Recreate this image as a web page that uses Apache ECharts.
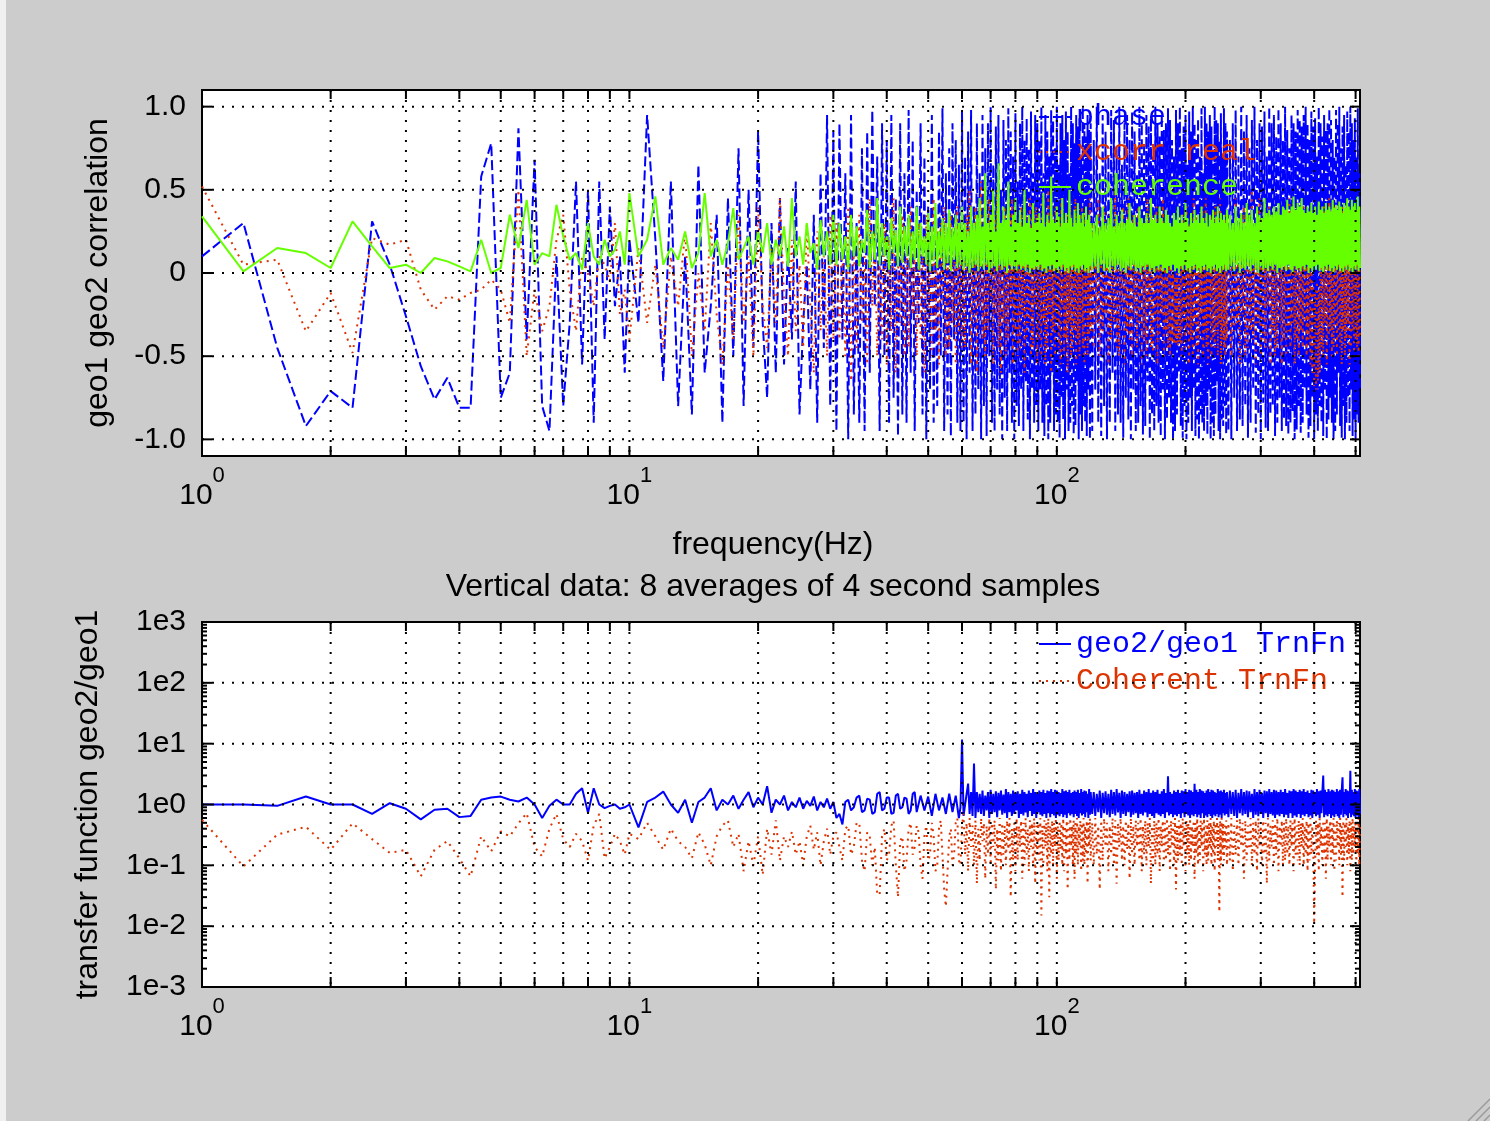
<!DOCTYPE html>
<html>
<head>
<meta charset="utf-8">
<script src="https://cdn.jsdelivr.net/npm/echarts@6/dist/echarts.min.js"></script>
<style>
html,body{margin:0;padding:0;background:#cccccc;}
#chart{width:1490px;height:1121px;}
</style>
</head>
<body>
<div id="chart"></div>
<script>
// ---------- DATA ----------
// frequency grid (Hz)
const freq = [
1,1.25,1.5,1.75,2,2.25,2.5,2.75,3,3.25,
3.5,3.75,4,4.25,4.5,4.75,5,5.25,5.5,5.75,
6,6.25,6.5,6.75,7,7.25,7.5,7.75,8,8.25,
8.5,8.75,9,9.25,9.5,9.75,10,
10.5,11,11.5,12,12.5,13,13.5,14,14.5,15,
15.5,16,16.5,17,17.5,18,18.5,19,19.5,20,
20.5,21,21.5,22,22.5,23,23.5,24,24.5,25,
25.5,26,26.5,27,27.5,28,28.5,29,29.5,30,
30.5,31,31.5,32,32.5,33,33.5,34,34.5,35,
35.5,36,36.5,37,37.5,38,38.5,39,39.5,40,
40.5,41,41.5,42,42.5,43,43.5,44,44.5,45,
45.5,46,46.5,47,47.5,48,48.5,49,49.5,50,
50.5,51,51.5,52,52.5,53,53.5,54,54.5,55,
55.5,56,56.5,57,57.5,58,58.5,59,59.5,60,
60.5,61,61.5,62,62.5,63,63.5,64,64.5,65,
65.5,66,66.5,67,67.5,68,68.5,69,69.5,70,
70.5,71,71.5,72,72.5,73,73.5,74,74.5,75,
75.5,76,76.5,77,77.5,78,78.5,79,79.5,80,
80.5,81,81.5,82,82.5,83,83.5,84,84.5,85,
85.5,86,86.5,87,87.5,88,88.5,89,89.5,90,
90.5,91,91.5,92,92.5,93,93.5,94,94.5,95,
95.5,96,96.5,97,97.5,98,98.5,99,99.5,100,
100.5,101,101.5,102,102.5,103,103.5,104,104.5,105,
105.5,106,106.5,107,107.5,108,108.5,109,109.5,110,
110.5,111,111.5,112,112.5,113,113.5,114,114.5,115,
115.5,116,116.5,117,117.5,118,118.5,119,119.5,120,
121,122,123,124,125,126,127,128,129,130,
131,132,133,134,135,136,137,138,139,140,
141,142,143,144,145,146,147,148,149,150,
151,152,153,154,155,156,157,158,159,160,
161,162,163,164,165,166,167,168,169,170,
171,172,173,174,175,176,177,178,179,180,
181,182,183,184,185,186,187,188,189,190,
191,192,193,194,195,196,197,198,199,200,
201,202,203,204,205,206,207,208,209,210,
211,212,213,214,215,216,217,218,219,220,
221,222,223,224,225,226,227,228,229,230,
231,232,233,234,235,236,237,238,239,240,
241,242,243,244,245,246,247,248,249,250,
252,254,256,258,260,262,264,266,268,270,
272,274,276,278,280,282,284,286,288,290,
292,294,296,298,300,302,304,306,308,310,
312,314,316,318,320,322,324,326,328,330,
332,334,336,338,340,342,344,346,348,350,
352,354,356,358,360,362,364,366,368,370,
372,374,376,378,380,382,384,386,388,390,
392,394,396,398,400,402,404,406,408,410,
412,414,416,418,420,422,424,426,428,430,
432,434,436,438,440,442,444,446,448,450,
452,454,456,458,460,462,464,466,468,470,
472,474,476,478,480,482,484,486,488,490,
492,494,496,498,500,502,504,506,508,510,
512
];

// top panel: phase
const phase = [
.10,.30,-.45,-.92,-.71,-.81,.31,.05,-.26,-.56,
-.76,-.63,-.81,-.81,.58,.78,-.75,-.6,.87,-.4,
.68,-.8,-.95,.1,-.8,-.3,.55,-.55,.5,-.9,
.55,-.4,.4,-.2,.1,-.6,.2,
-.3,.95,.2,-.65,.55,-.8,.1,-.85,.65,-.6,
-.2,.35,-.9,.45,-.5,.75,-.8,.5,-.45,.85,
-.3,-.75,.3,-.6,.45,-.55,.15,-.4,.55,-.85,
-.3,.05,-.7,.35,-.9,.6,-.45,.95,-.8,.85,
-.95,.9,-.4,.6,-1,.95,-.85,.3,-.9,.75,
-.95,.85,-.6,.98,-.2,.7,-.95,.9,-.5,.8,
-.9,.95,-.75,.45,-.98,.9,-.85,.6,-.9,.98,
-.6,.8,-.95,.5,-.3,.9,-.85,.7,-1,.4,
-.7,.95,-.9,.2,-.8,.85,-.5,.99,-.95,.6,
-.85,.75,-.98,.9,-.4,.8,-.9,.65,-.95,.98,
-.9,.7,-1,.85,-.6,.98,-.95,.4,-.85,.9,
-.7,.6,-1,.95,-.8,.75,-.98,.9,-.5,1,
-.9,.65,-.95,.88,-.7,.95,-.85,.5,-1,.92,
-.75,.8,-.95,.99,-.6,.85,-.9,.7,-1,.96,
-.8,.55,-.92,.9,-.7,1,-.95,.8,-.65,.93,
-.88,.75,-1,.97,-.7,.6,-.9,.95,-.8,.9,
-.95,.8,-.7,1,-.9,.6,-.98,.95,-.8,.85,
-1,.7,-.9,.98,-.6,.92,-.95,.75,-.85,1,
-.9,.65,-.99,.9,-.75,.95,-.88,.8,-1,.97,
-.7,.85,-.95,.6,-.9,1,-.8,.9,-.97,.78,
-.92,.95,-.65,.88,-1,.93,-.85,.7,-.95,1,
-.8,.9,-.9,.82,-.98,.95,-.7,.86,-1,.9,
-.95,.8,-.7,1,-.9,.6,-.98,.95,-.8,.85,
-1,.7,-.9,.98,-.6,.92,-.95,.75,-.85,1,
-.9,.65,-.99,.9,-.75,.95,-.88,.8,-1,.97,
-.7,.85,-.95,.6,-.9,1,-.8,.9,-.97,.78,
-.92,.95,-.65,.88,-1,.93,-.85,.7,-.95,1,
-.8,.9,-.9,.82,-.98,.95,-.7,.86,-1,.9,
-.88,.99,-.75,.92,-.9,.8,-1,.7,-.95,.98,
-.85,.9,-.6,1,-.92,.75,-.99,.88,-.8,.95,
-1,.65,-.9,.97,-.75,.85,-.95,1,-.7,.9,
-.98,.8,-.88,.93,-1,.7,-.85,.99,-.9,.6,
-.95,1,-.8,.9,-.97,.85,-.7,.95,-1,.88,
-.9,.75,-.98,1,-.85,.92,-.65,.9,-.95,.8,
-1,.96,-.88,.7,-.92,.99,-.8,.9,-.97,.85,
-.95,.8,-1,.9,-.75,.98,-.95,.7,-.88,1,
-.92,.85,-.8,.95,-.99,.75,-.9,.92,-.7,1,
-.96,.8,-.85,.9,-1,.88,-.78,.97,-.93,.7,
-.95,1,-.85,.9,-.8,.95,-.98,.82,-.9,.99,
-.75,.9,-.95,.8,-.88,1,-.92,.86,-.97,.75,
-.9,.95,-.83,.9,-1,.85,-.94,.98,-.8,.92,
-.96,.88,-.9,.95,-.7,1,-.85,.9,-.99,.8,
-.92,.97,-.75,.88,-1,.93,-.85,.7,-.95,1,
-.8,.9,-.9,.82,-.98,.95,-.7,.86,-1,.9,
-.88,.99,-.75,.92,-.9,.8,-1,.7,-.95,.98,
-.85,.9,-.6,1,-.92,.75,-.99,.88,-.8,.95,
-1,.65,-.9,.97,-.75,.85,-.95,1,-.7,.9,
-.98,.8,-.88,.93,-1,.7,-.85,.99,-.9,.6,
-.7
];

// top panel: real part of cross correlation
const xcorrReal = [
.52,.05,.08,-.35,-.12,-.48,.21,.17,.2,-.1,
-.22,-.14,-.16,-.12,-.1,-.04,-.1,-.3,.5,-.5,
-.1,-.35,-.2,.2,.35,-.1,-.35,.1,0,-.2,
.1,.05,-.05,.3,-.25,-.1,-.4,
.15,-.3,.05,-.45,.1,-.2,.25,-.5,0,-.35,
.3,-.25,-.55,.05,-.4,.35,-.3,.1,-.5,.4,
-.2,-.45,.15,-.3,.45,-.15,-.5,.2,-.35,.05,
-.45,.3,-.2,-.6,.25,-.35,.1,-.5,.35,-.4,
.3,-.4,.15,-.5,.4,-.65,.2,-.45,.35,-.3,
.1,-.55,.45,-.2,.25,-.5,.05,-.4,.3,-.55,
.2,-.35,.45,-.6,.1,-.3,.35,-.5,.2,-.45,
.4,-.25,.15,-.5,.3,-.4,.2,-.6,.35,-.3,
.1,-.5,.45,-.35,.25,-.55,.3,-.2,.4,-.5,
.15,-.45,.35,-.3,.2,-.55,.4,-.35,.25,-.45,
.2,-.45,.35,-.1,.5,-.55,.15,-.3,.4,-.6,
.25,-.2,.55,-.4,.1,-.5,.3,-.35,.45,-.15,
.2,-.55,.35,-.25,.5,-.45,.05,-.6,.3,-.3,
.4,-.5,.15,-.4,.35,-.2,.45,-.55,.1,-.35,
.3,-.5,.2,-.45,.4,-.25,.15,-.6,.35,-.4,
.25,-.3,.45,-.5,.1,-.45,.3,-.2,.4,-.55,
.35,-.4,.2,-.5,.45,-.3,.1,-.55,.3,-.45,
.5,-.25,.15,-.6,.35,-.35,.2,-.5,.4,-.3,
.1,-.45,.3,-.55,.45,-.2,.25,-.5,.15,-.4,
.35,-.6,.2,-.3,.4,-.5,.1,-.45,.3,-.35,
.45,-.55,.2,-.4,.3,-.5,.15,-.3,.4,-.45,
.25,-.55,.35,-.2,.1,-.5,.3,-.4,.45,-.35,
.3,-.45,.2,-.3,.45,-.5,.1,-.35,.4,-.25,
.15,-.55,.35,-.4,.25,-.3,.5,-.45,.1,-.5,
.3,-.2,.4,-.55,.2,-.35,.45,-.4,.15,-.5,
.35,-.25,.2,-.45,.4,-.3,.1,-.55,.3,-.4,
.25,-.5,.45,-.2,.15,-.45,.35,-.5,.2,-.3,
.4,-.55,.1,-.4,.3,-.25,.45,-.5,.2,-.35,
.15,-.45,.3,-.5,.25,-.42,0,-.43,-.02,-.42,
0,-.44,-.03,-.42,.1,-.5,.35,-.3,.2,-.45,
.4,-.35,.15,-.55,.3,-.4,.25,-.5,.45,-.3,
.1,-.45,.35,-.55,.2,-.4,.3,-.25,.4,-.5,
.15,-.35,.45,-.45,.25,-.55,.1,-.3,.35,-.5,
.2,-.4,.3,-.45,.4,-.35,.15,-.5,.25,-.3,
.45,-.55,.2,-.4,.3,-.45,.1,-.5,.35,-.4,
-.4,.3,-.5,.2,-.35,.45,-.3,.15,-.55,.35,
-.25,.4,-.5,.1,-.45,.3,-.35,.5,-.4,.2,
-.55,.25,-.3,.45,-.5,.15,-.4,.35,-.45,.3,
-.2,.4,-.55,.2,-.35,.3,-.5,.25,-.45,.4,
-.3,.15,-.55,.35,-.4,.2,-.5,.3,-.35,.45,
-.45,.25,-.3,.4,-.55,.1,-.4,.35,-.5,.2,
-.35,.3,-.45,.4,-.3,.25,-.5,.15,-.4,.35,
-.55,.2,-.6,-.05,-.68,-.1,-.7,-.05,-.65,-.1,
-.6,.35,-.45,.25,-.5,.4,-.3,.15,-.55,.3,
-.4,.45,-.35,.2,-.5,.3,-.45,.4,-.3,.25,
-.5,.35,-.4,.3,-.45,.2,-.55,.4,-.35,.25,
-.5,.3,-.4,.45,-.3,.2,-.55,.35,-.45,.3,
-.35,.4,-.5,.25,-.4,.3,-.45,.35,-.5,.2,
-.4
];

// top panel: coherence
const coherence = [
.34,.01,.15,.12,.03,.31,.16,.03,.05,0,
.09,.07,.04,.01,.2,0,.03,.35,.15,.44,
.05,.12,.1,.41,.22,.08,.12,.02,.3,.1,
.05,.2,.1,.14,.25,.05,.48,
.1,.2,.46,.05,.15,.08,.25,.03,.12,.48,
.1,.2,.05,.18,.39,.08,.15,.22,.05,.25,
.12,.3,.05,.2,.1,.28,.04,.45,.1,.22,
.05,.3,.12,.18,.02,.32,.1,.25,.05,.35,
.05,.3,.08,.22,.02,.35,.1,.28,.04,.2,
.12,.38,.03,.25,.08,.45,.05,.3,.1,.22,
.02,.33,.12,.26,.04,.4,.06,.28,.1,.35,
.03,.25,.08,.4,.02,.3,.1,.22,.05,.36,
.01,.28,.07,.42,.03,.25,.09,.33,.02,.3,
.06,.38,.01,.27,.08,.35,.03,.3,.05,.4,
.02,.3,.04,.25,0,.4,.03,.3,.05,.35,
.01,.45,.04,.28,.02,.6,.05,.3,0,.35,
.03,.5,.04,.25,.01,.66,.05,.3,.02,.4,
.04,.32,0,.55,.05,.28,.02,.35,.04,.45,
.01,.3,.05,.38,.02,.28,.04,.5,.01,.3,
.05,.35,0,.27,.03,.42,.02,.3,.04,.33,
.02,.36,.05,.3,.01,.48,.03,.28,0,.35,
.04,.3,.02,.58,.05,.32,.01,.3,.03,.4,
0,.34,.04,.28,.02,.45,.05,.3,.01,.36,
.03,.3,0,.5,.04,.33,.02,.28,.05,.38,
.01,.3,.03,.42,0,.35,.04,.3,.02,.36,
.05,.28,.01,.4,.03,.32,0,.35,.04,.3,
.02,.3,.04,.35,0,.28,.05,.4,.01,.3,
.03,.33,0,.45,.04,.28,.02,.35,.05,.3,
.01,.38,.03,.3,0,.32,.04,.42,.02,.3,
.05,.35,.01,.28,.03,.4,0,.33,.04,.3,
.02,.36,.05,.3,.01,.45,.03,.32,0,.35,
.04,.3,.02,.4,.05,.33,.01,.3,.03,.38,
0,.35,.04,.3,.02,.28,.05,.36,.01,.32,
.03,.4,0,.3,.04,.35,.02,.3,.05,.42,
.01,.33,.03,.28,0,.36,.04,.3,.02,.38,
.05,.32,.01,.35,.03,.3,0,.4,.04,.33,
.02,.3,.05,.36,.01,.28,.03,.35,0,.32,
.04,.38,.02,.3,.05,.34,.01,.4,.03,.3,
0,.36,.04,.32,.02,.35,.05,.3,.01,.38,
.02,.35,.04,.3,.01,.4,.05,.33,0,.36,
.03,.3,.02,.42,.04,.35,.01,.38,.05,.3,
.02,.4,0,.35,.04,.33,.02,.45,.03,.36,
.01,.38,.04,.35,.02,.4,.05,.37,0,.42,
.03,.35,.02,.4,.04,.38,.01,.44,.05,.36,
.02,.4,0,.46,.04,.38,.02,.42,.03,.4,
.01,.45,.04,.38,.02,.36,.05,.4,0,.37,
.03,.42,.01,.36,.04,.4,.02,.35,.05,.43,
.01,.38,.03,.4,0,.36,.04,.42,.02,.38,
.05,.4,.01,.37,.03,.44,0,.39,.04,.41,
.02,.38,.05,.43,.01,.4,.03,.36,0,.42,
.04,.39,.02,.45,.05,.4,.01,.38,.03,.44,
0,.4,.04,.42,.02,.38,.05,.46,.01,.4,
.03
];

// bottom panel: geo2/geo1 transfer function
const trnFn = [
1,1,.95,1.35,1,1,.7,1.05,.85,.57,
.82,.85,.62,.65,1.2,1.3,1.35,1.2,1.12,1.3,
1,.6,.95,1.2,1,1,1.5,1.85,.73,1.85,
1,.87,.95,1,.85,.9,1,
.42,1.1,1.3,1.63,1,.73,1.2,.5,1.1,1.3,
1.85,.8,1.2,1,1.4,.85,1.2,1.6,.9,1.3,
1,2,.73,1.2,1,1.4,.8,1.1,.9,1.3,
.85,1.15,.95,1.35,.8,1.1,.9,1.25,.85,1.1,
.6,.7,.47,1.1,1.2,.8,.9,1.3,1.4,.75,
.8,1.25,1.2,.7,.75,1.5,1.6,.8,.85,1.3,
1.3,.7,.73,1.4,1.5,.85,.9,1.3,1.25,.7,
.8,1.5,1.6,.75,.75,1.4,1.4,.8,.85,1.35,
1.3,.65,.7,1.5,1.55,.8,.8,1.3,1.35,.7,
.65,1.5,1.6,.75,.7,1.4,1.4,.6,.9,11.7,
.65,.7,1.5,2.2,.7,1.6,.65,4.7,.6,1.6,
.75,1.5,.7,1.7,.65,1.4,.8,1.6,.6,1.75,
.7,1.5,.75,1.65,.62,1.55,.8,1.7,.68,1.45,
.72,1.8,.6,1.6,.75,1.5,.65,1.7,.7,1.55,
.8,1.65,.6,1.5,.7,1.75,.66,1.6,.74,1.5,
.62,1.7,.78,1.55,.65,1.8,.7,1.6,.6,1.5,
.75,1.7,.68,1.6,.64,1.75,.7,1.55,.6,1.7,
.72,1.65,.62,1.8,.7,1.6,.66,1.75,.6,1.7,
.68,1.6,.64,1.55,.7,1.8,.62,1.65,.68,1.7,
.6,1.6,.72,1.75,.66,1.55,.7,1.6,.62,1.7,
.7,1.6,.65,1.75,.6,1.55,.72,1.8,.66,1.6,
.7,1.7,.62,1.65,.75,1.5,.6,1.8,.68,1.6,
.7,1.6,.65,1.5,.75,1.7,.6,1.55,.72,1.65,
.68,1.5,.62,1.75,.7,1.6,.66,1.8,.74,1.55,
.6,1.7,.7,1.6,.65,1.5,.75,1.65,.62,1.7,
.68,1.55,.72,1.6,.6,1.75,.7,1.5,.66,1.7,
.74,1.6,.62,1.8,.7,1.55,.65,1.7,.6,1.6,
.72,1.75,.68,1.5,.64,1.65,.7,1.8,.6,1.55,
.75,2.9,.66,1.6,.7,1.5,.62,1.7,.68,1.6,
.64,1.75,.7,1.55,.6,1.7,.72,1.65,.62,1.8,
.7,1.6,.66,1.75,.6,1.7,.68,1.6,.64,2.2,
.7,1.75,.62,1.6,.68,1.8,.6,1.7,.72,1.65,
.6,1.55,.66,1.7,.62,1.8,.7,1.6,.65,1.75,
.6,1.7,.68,1.6,.64,1.55,.7,1.8,.62,1.65,
.68,1.7,.6,1.6,.72,1.75,.66,1.55,.7,1.6,
.62,1.7,.7,1.6,.65,1.75,.6,1.55,.72,1.8,
.66,1.6,.7,1.7,.62,1.65,.75,1.5,.6,1.8,
.68,1.6,.64,1.75,.7,1.55,.6,1.7,.72,1.65,
.62,1.8,.7,1.6,.66,1.75,.6,1.7,.68,1.6,
.64,1.75,.7,1.6,.62,1.8,.68,1.55,.6,1.7,
.72,1.65,.6,1.8,.66,1.7,.62,1.6,.7,1.75,
.6,1.65,.68,1.8,.64,1.6,.7,1.7,.62,1.55,
.66,1.75,.6,1.7,.7,1.6,.64,1.8,.68,1.65,
.6,1.7,.72,1.6,3,.62,1.75,.68,1.6,.64,
1.8,.7,1.65,.6,1.75,.66,1.7,.62,1.6,.7,
1.8,.64,1.65,.6,1.75,.68,1.7,2.8,.62,1.6,
.7,1.8,.66,1.7,.6,1.65,.72,3.6,.62,1.75,
.68,1.6,.64,1.8,.6,1.7,.66,1.65,.62,1.8,
.7
];

// bottom panel: coherent transfer function
const cohTrnFn = [
.56,.096,.32,.43,.18,.49,.27,.16,.18,.066,
.18,.25,.13,.066,.3,.17,.36,.3,.49,.72,
.2,.14,.4,.7,.27,.2,.33,.25,.12,.45,
.7,.13,.2,.33,.25,.15,.33,
.27,.5,.3,.18,.4,.25,.2,.13,.35,.22,
.1,.3,.45,.55,.2,.33,.08,.25,.1,.3,
.07,.4,.15,.55,.12,.3,.2,.36,.15,.25,
.1,.3,.45,.18,.35,.1,.25,.4,.15,.3,
.35,.2,.12,.4,.45,.15,.2,.5,.5,.12,
.08,.35,.3,.1,.2,.033,.033,.3,.4,.12,
.15,.45,.55,.1,.03,.25,.3,.08,.12,.4,
.5,.15,.2,.45,.35,.1,.06,.3,.45,.12,
.15,.5,.3,.08,.1,.4,.55,.15,.04,.021,
.021,.3,.4,.1,.15,.5,.6,.12,.1,.45,
.7,.15,.5,.08,.6,.2,.45,.1,.55,.05,
.4,.12,.6,.25,.5,.06,.45,.15,.6,.1,
.5,.2,.55,.04,.4,.12,.6,.08,.5,.15,
.45,.1,.55,.18,.6,.03,.4,.12,.5,.08,
.6,.12,.45,.2,.55,.06,.5,.1,.6,.15,
.4,.08,.55,.2,.5,.1,.6,.05,.45,.15,
.5,.12,.6,.015,.45,.1,.55,.2,.5,.08,
.6,.03,.45,.15,.55,.1,.5,.2,.6,.06,
.45,.12,.55,.18,.5,.1,.6,.08,.45,.15,
.55,.04,.5,.12,.6,.2,.45,.1,.55,.06,
.5,.15,.6,.1,.45,.2,.55,.08,.5,.12,
.6,.1,.45,.15,.55,.05,.5,.2,.6,.12,
.5,.1,.6,.15,.45,.04,.55,.12,.6,.2,
.5,.08,.45,.15,.6,.1,.55,.05,.5,.2,
.6,.12,.45,.1,.55,.18,.5,.06,.6,.15,
.45,.1,.55,.2,.5,.12,.6,.08,.45,.15,
.55,.1,.5,.2,.6,.05,.45,.12,.55,.1,
.5,.15,.6,.08,.45,.2,.55,.1,.5,.12,
.6,.15,.45,.08,.55,.2,.5,.1,.6,.04,
.45,.12,.55,.15,.5,.1,.6,.2,.45,.08,
.55,.15,.5,.1,.6,.12,.45,.2,.55,.06,
.5,.15,.6,.1,.45,.12,.55,.2,.5,.08,
.6,.15,.45,.1,.55,.12,.5,.2,.6,.1,
.45,.15,.55,.08,.5,.2,.6,.12,.45,.017,
.55,.1,.6,.15,.5,.12,.45,.2,.55,.1,
.5,.12,.6,.08,.45,.15,.55,.1,.6,.2,
.5,.06,.55,.12,.45,.18,.6,.1,.5,.15,
.55,.08,.6,.2,.45,.1,.55,.15,.5,.05,
.6,.12,.45,.2,.55,.1,.5,.15,.6,.08,
.45,.2,.55,.1,.5,.12,.6,.15,.45,.1,
.55,.2,.5,.08,.6,.15,.45,.12,.55,.1,
.5,.2,.6,.1,.45,.15,.55,.08,.5,.12,
.6,.15,.45,.2,.011,.1,.55,.15,.5,.08,
.6,.2,.45,.1,.55,.15,.5,.06,.6,.12,
.45,.2,.55,.1,.5,.15,.6,.08,.45,.12,
.55,.2,.5,.1,.6,.15,.45,.03,.55,.12,
.5,.2,.6,.1,.45,.15,.55,.08,.5,.12,
.6,.15,.45,.2,.55,.1,.5,.15,.6,.1,
.5
];

// ticks / grid positions
const xGridTicks = [2,3,4,5,6,7,8,9,10,20,30,40,50,60,70,80,90,100,200,300,400,500];
const topYTicks = [-1,-0.5,0,0.5,1];
const botYTicks = [0.001,0.01,0.1,1,10,100,1000];
const botYMinorMantissa = [2,3,4,5,6,7,8,9];
const botYDecades = [0.001,0.01,0.1,1,10,100];

// ---------- STYLE ----------
const BLUE = '#0000ff', RED = '#dd3300', GREEN = '#66ff00';
const SANS = 'Liberation Sans', MONO = 'Liberation Mono';

function pairs(y){ return freq.map((f,i)=>[f, y[i]]); }
console.log('lengths', freq.length, phase.length, xcorrReal.length, coherence.length, trnFn.length, cohTrnFn.length);

const botYMinor = [];
botYDecades.forEach(d => botYMinorMantissa.forEach(m => botYMinor.push(m*d)));

const GRID_DOT = {stroke:'#000', lineWidth:2, lineDash:[2,8]};
function vRender(yRef){
  return function(params, api){
    const cs = params.coordSys;
    const x = api.coord([api.value(0), yRef])[0];
    const top = cs.y, bot = cs.y + cs.height;
    return {type:'group', children:[
      {type:'line', shape:{x1:x,y1:top,x2:x,y2:bot}, style:GRID_DOT},
      {type:'line', shape:{x1:x,y1:bot,x2:x,y2:bot-10}, style:{stroke:'#000', lineWidth:2}},
      {type:'line', shape:{x1:x,y1:top,x2:x,y2:top+9}, style:{stroke:'#000', lineWidth:2}}
    ]};
  };
}
function hRender(xRef, withGrid, len){
  return function(params, api){
    const cs = params.coordSys;
    const y = api.coord([xRef, api.value(1)])[1];
    const l = cs.x, r = cs.x + cs.width;
    const ch = [
      {type:'line', shape:{x1:l,y1:y,x2:l+len,y2:y}, style:{stroke:'#000', lineWidth:2}},
      {type:'line', shape:{x1:r,y1:y,x2:r-len,y2:y}, style:{stroke:'#000', lineWidth:2}}
    ];
    if (withGrid && y > cs.y + 2 && y < cs.y + cs.height - 2) {
      ch.unshift({type:'line', shape:{x1:l,y1:y,x2:r,y2:y}, style:GRID_DOT});
    }
    return {type:'group', children: ch};
  };
}

const xLabel = {
  margin: 9,
  formatter: function(v){
    const e = Math.log10(v), r = Math.round(e);
    if (Math.abs(e - r) > 1e-6) return '';
    return '{b|10}{s|' + r + '}';
  },
  rich: {
    b: {fontSize: 30, lineHeight: 46, verticalAlign: 'bottom', fontFamily: SANS, color: '#000'},
    s: {fontSize: 22, lineHeight: 22, verticalAlign: 'top', fontFamily: SANS, color: '#000'}
  }
};

const legendCommon = {
  orient: 'vertical', itemWidth: 32, itemHeight: 14, selectedMode: false,
  itemStyle: {color: 'rgba(0,0,0,0)', borderWidth: 0, opacity: 0},
  textStyle: {fontFamily: MONO, fontSize: 30, lineHeight: 30}
};

const chart = echarts.init(document.getElementById('chart'), null, {renderer: 'canvas'});
const option = {
  animation: false,
  backgroundColor: '#cccccc',
  textStyle: {fontFamily: SANS},
  grid: [
    {left: 202, top: 90, width: 1158, height: 366, show: true, backgroundColor: '#ffffff', borderColor: '#000', borderWidth: 2},
    {left: 202, top: 622, width: 1158, height: 365, show: true, backgroundColor: '#ffffff', borderColor: '#000', borderWidth: 2}
  ],
  xAxis: [
    {type: 'log', logBase: 10, gridIndex: 0, min: 1, max: 512,
     axisLine: {show: false}, axisTick: {show: false}, splitLine: {show: false}, axisLabel: xLabel},
    {type: 'log', logBase: 10, gridIndex: 1, min: 1, max: 512,
     axisLine: {show: false}, axisTick: {show: false}, splitLine: {show: false}, axisLabel: xLabel}
  ],
  yAxis: [
    {type: 'value', gridIndex: 0, min: -1.1, max: 1.1,
     axisLine: {show: false}, axisTick: {show: false}, splitLine: {show: false},
     name: 'geo1 geo2 correlation', nameLocation: 'middle', nameGap: 88, nameRotate: 90,
     nameTextStyle: {fontSize: 32, color: '#000', fontFamily: SANS},
     axisLabel: {margin: 16, fontSize: 30, color: '#000', fontFamily: SANS,
       formatter: function(v){
         if (Math.abs(Math.abs(v) - 1.1) < 1e-6) return '';
         if (Math.abs(v) < 1e-9) return '0';
         return v.toFixed(1);
       }}},
    {type: 'log', logBase: 10, gridIndex: 1, min: 0.001, max: 1000,
     axisLine: {show: false}, axisTick: {show: false}, splitLine: {show: false},
     name: 'transfer function geo2/geo1', nameLocation: 'middle', nameGap: 98, nameRotate: 90,
     nameTextStyle: {fontSize: 32, color: '#000', fontFamily: SANS},
     axisLabel: {margin: 16, fontSize: 30, color: '#000', fontFamily: SANS,
       formatter: function(v){
         const e = Math.log10(v), r = Math.round(e);
         if (Math.abs(e - r) > 1e-6) return '';
         return '1e' + r;
       }}}
  ],
  legend: [
    Object.assign({}, legendCommon, {left: 1033, top: 97, itemGap: 5,
     data: [{name: 'phase', textStyle: {color: BLUE}}, {name: 'xcorr real', textStyle: {color: RED}}, {name: 'coherence', textStyle: {color: GREEN}}]}),
    Object.assign({}, legendCommon, {left: 1033, top: 624, itemGap: 7,
     data: [{name: 'geo2/geo1 TrnFn', textStyle: {color: BLUE}}, {name: 'Coherent TrnFn', textStyle: {color: RED}}]})
  ],
  graphic: [
    {type: 'rect', left: 0, top: 0, shape: {width: 6, height: 1121}, style: {fill: '#f0f0f0'}, silent: true},
    {type: 'text', x: 773, y: 545, style: {text: 'frequency(Hz)', align: 'center', verticalAlign: 'middle', font: '32px "Liberation Sans"', fill: '#000'}},
    {type: 'text', x: 773, y: 587, style: {text: 'Vertical data: 8 averages of 4 second samples', align: 'center', verticalAlign: 'middle', font: '32px "Liberation Sans"', fill: '#000'}},
    {type: 'line', shape: {x1: 1468, y1: 1121, x2: 1490, y2: 1099}, style: {stroke: '#999', lineWidth: 1.5}},
    {type: 'line', shape: {x1: 1476, y1: 1121, x2: 1490, y2: 1107}, style: {stroke: '#999', lineWidth: 1.5}},
    {type: 'line', shape: {x1: 1484, y1: 1121, x2: 1490, y2: 1115}, style: {stroke: '#999', lineWidth: 1.5}}
  ],
  series: [
    {name: 'phase', type: 'line', xAxisIndex: 0, yAxisIndex: 0, data: pairs(phase), symbol: 'none', z: 2,
     lineStyle: {color: BLUE, width: 2, type: [10, 4]}, itemStyle: {color: BLUE}},
    {name: 'xcorr real', type: 'line', xAxisIndex: 0, yAxisIndex: 0, data: pairs(xcorrReal), symbol: 'none', z: 2,
     lineStyle: {color: RED, width: 2, type: [2, 5]}, itemStyle: {color: RED}},
    {name: 'coherence', type: 'line', xAxisIndex: 0, yAxisIndex: 0, data: pairs(coherence), symbol: 'none', z: 2,
     lineStyle: {color: GREEN, width: 2}, itemStyle: {color: GREEN}},
    {name: 'geo2/geo1 TrnFn', type: 'line', xAxisIndex: 1, yAxisIndex: 1, data: pairs(trnFn), symbol: 'none', z: 2,
     lineStyle: {color: BLUE, width: 2}, itemStyle: {color: BLUE}},
    {name: 'Coherent TrnFn', type: 'line', xAxisIndex: 1, yAxisIndex: 1, data: pairs(cohTrnFn), symbol: 'none', z: 2,
     lineStyle: {color: RED, width: 2, type: [2, 5]}, itemStyle: {color: RED}},
    // grid lines & ticks (through axis scales)
    {type: 'custom', xAxisIndex: 0, yAxisIndex: 0, z: 4, silent: true, data: xGridTicks.map(v => [v, 0]), renderItem: vRender(0)},
    {type: 'custom', xAxisIndex: 0, yAxisIndex: 0, z: 4, silent: true, data: topYTicks.map(v => [1, v]), renderItem: hRender(1, true, 10)},
    {type: 'custom', xAxisIndex: 1, yAxisIndex: 1, z: 4, silent: true, data: xGridTicks.map(v => [v, 1]), renderItem: vRender(1)},
    {type: 'custom', xAxisIndex: 1, yAxisIndex: 1, z: 4, silent: true, data: botYTicks.map(v => [1, v]), renderItem: hRender(1, true, 10)},
    {type: 'custom', xAxisIndex: 1, yAxisIndex: 1, z: 4, silent: true, data: botYMinor.map(v => [1, v]), renderItem: hRender(1, false, 5)}
  ]
};
chart.setOption(option);
</script>
</body>
</html>
